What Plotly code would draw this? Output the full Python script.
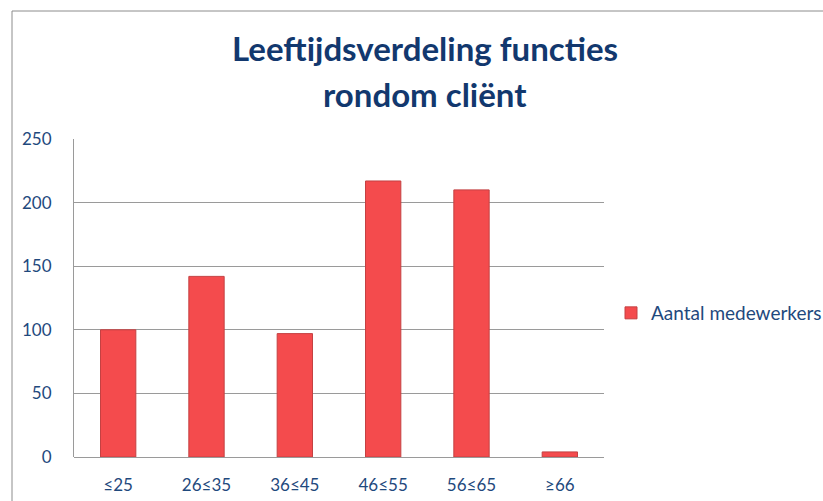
import plotly.graph_objects as go

categories = ["≤25", "26≤35", "36≤45", "46≤55", "56≤65", "≥66"]
values = [100, 142, 97, 217, 210, 4]
series_name = "Aantal medewerkers"
title_line1 = "Leeftijdsverdeling functies"
title_line2 = "rondom cliënt"

# figure is a bit wider than the 823px window (the reference chart is cut off at the right)
W, H = 870, 501
L, T, B = 74, 139, 44
R = W - 604
pw = W - L - R
ph = H - T - B

def px_x(x):
    return (x - L) / pw

def px_y(y):
    return (H - B - y) / ph

FONT = "Lato, Calibri, sans-serif"
TXT = "#1F497D"
TITLE = "#12386E"

fig = go.Figure()
fig.add_trace(go.Bar(
    x=categories, y=values, name=series_name,
    marker=dict(color="#F44B4D", line=dict(color="#C44142", width=1)),
    showlegend=True,
))

fig.update_layout(
    width=W, height=H,
    margin=dict(l=L, r=R, t=T, b=B, pad=0),
    paper_bgcolor="white", plot_bgcolor="white",
    font=dict(family=FONT, color=TXT, size=16),
    bargap=0.6,
    showlegend=True,
    legend=dict(x=px_x(611), y=px_y(313), xanchor="left", yanchor="middle",
                bgcolor="rgba(0,0,0,0)", borderwidth=0,
                font=dict(family=FONT, size=19, color=TXT)),
    xaxis=dict(showgrid=False, showline=False, ticks="", ticklabelstandoff=16,
               automargin=False,
               tickfont=dict(family=FONT, size=17, color=TXT)),
    yaxis=dict(range=[0, 250], dtick=50, showgrid=True, gridcolor="#9A9A9A",
               gridwidth=1, showline=True, linecolor="#9A9A9A", linewidth=1,
               zeroline=True, zerolinecolor="#9A9A9A", zerolinewidth=1,
               ticks="", ticklabelstandoff=18, automargin=False,
               tickfont=dict(family=FONT, size=17, color=TXT)),
    annotations=[
        dict(text="<b>" + title_line1 + "</b>", xref="paper", yref="paper",
             x=px_x(425), y=px_y(48), xanchor="center", yanchor="middle",
             showarrow=False, font=dict(family=FONT, size=33, color=TITLE)),
        dict(text="<b>" + title_line2 + "</b>", xref="paper", yref="paper",
             x=px_x(425), y=px_y(94), xanchor="center", yanchor="middle",
             showarrow=False, font=dict(family=FONT, size=33, color=TITLE)),
    ],
    shapes=[
        dict(type="line", xref="paper", yref="paper", x0=px_x(12), x1=px_x(12),
             y0=px_y(11), y1=px_y(520), line=dict(color="#8C8C8C", width=1)),
        dict(type="line", xref="paper", yref="paper", x0=px_x(12), x1=px_x(W + 10),
             y0=px_y(11), y1=px_y(11), line=dict(color="#8C8C8C", width=1)),
    ],
)

fig.write_html(
    "out.html",
    config={"displayModeBar": False},
    post_script="document.body.style.margin='0';document.body.style.overflow='hidden';",
)
